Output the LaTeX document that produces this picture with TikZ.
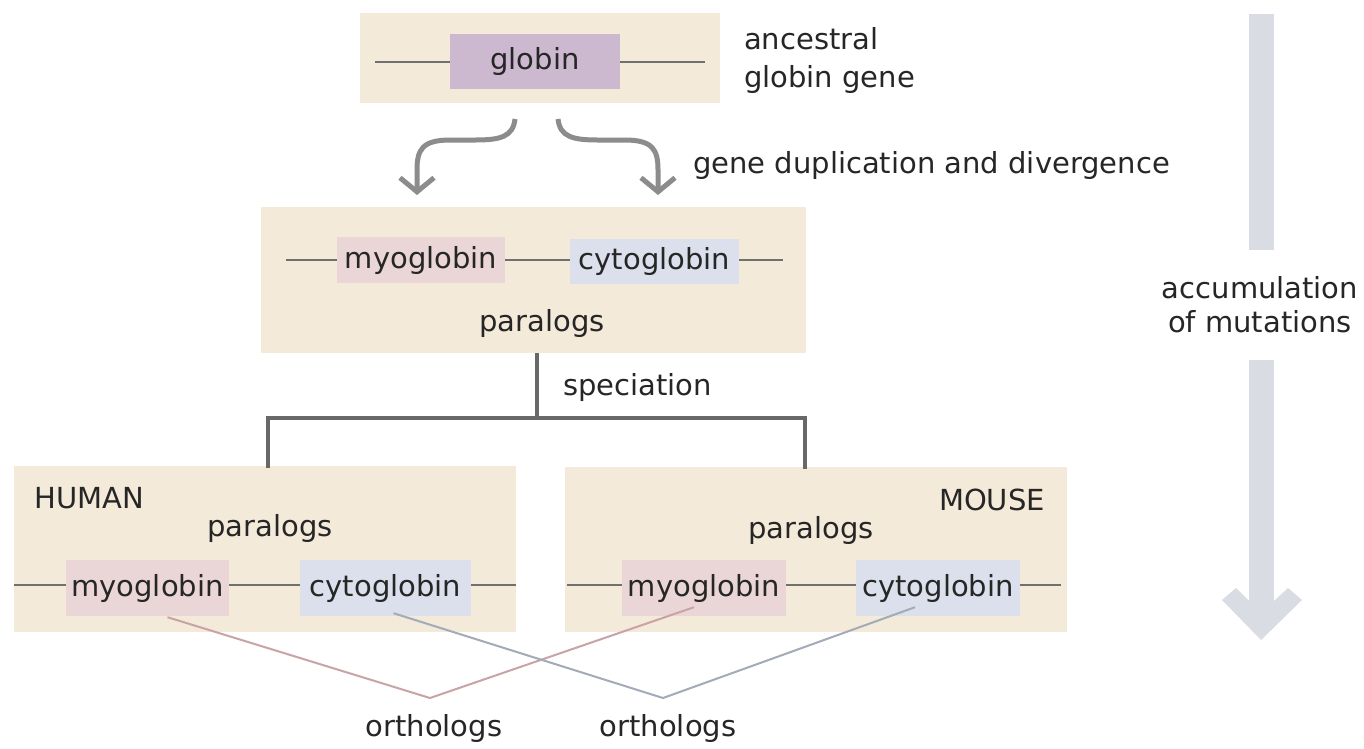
\documentclass[tikz,border=0pt]{standalone}
\usepackage{fontspec}
\setmainfont{DejaVu Sans}
\usetikzlibrary{arrows.meta,calc}
\definecolor{boxtan}{HTML}{F3EADA}
\definecolor{globinpurple}{HTML}{CDB9CF}
\definecolor{myopink}{HTML}{EBD6D7}
\definecolor{cytoblue}{HTML}{DCE0EC}
\definecolor{txtgray}{HTML}{262626}
\definecolor{linegray}{HTML}{707070}
\definecolor{specgray}{HTML}{686868}
\definecolor{arrowgray}{HTML}{8C8C8C}
\definecolor{mutgray}{HTML}{D9DCE2}
\definecolor{orthopink}{HTML}{C9A3A5}
\definecolor{orthoblue}{HTML}{A3AAB8}
\tikzset{
  panel/.style={fill=boxtan, draw=none, inner sep=0pt},
  lbl/.style={inner sep=0pt, text=txtgray, font=\fontsize{29}{34}\selectfont},
  genebox/.style={lbl, minimum height=48pt},
  geneline/.style={draw=linegray, line width=2.5pt},
  specline/.style={draw=specgray, line width=4pt},
  duparrow/.style={draw=arrowgray, line width=5pt, -{Straight Barb[length=14pt,width=34pt]}},
  orthoP/.style={draw=orthopink, line width=2pt},
  orthoB/.style={draw=orthoblue, line width=2pt}
}
\begin{document}
\begin{tikzpicture}[x=1pt,y=-1pt]
\useasboundingbox (0,0) rectangle (1364,748);
\fill[white] (0,0) rectangle (1364,748);

% ---------- top box ----------
\node[panel, minimum width=360pt, minimum height=90pt] (top) at (540,58) {};
\coordinate (tl) at (375,62);
\coordinate (tr) at (705,62);
\draw[geneline] (tl) -- (tr);
\node[genebox, fill=globinpurple, minimum width=170pt, minimum height=55pt] (globin) at (535,61) {globin};
\node[lbl, anchor=west] (anc1) at (744,39) {ancestral};
\node[lbl, anchor=west] (anc2) at (744,79) {globin gene};

% ---------- duplication arrows ----------
\coordinate (d1s) at (515,119);
\coordinate (d1e) at (417,195);
\coordinate (d2s) at (558,119);
\coordinate (d2e) at (658,195);
\draw[duparrow] (d1s) .. controls (513,137) and (500,140) .. (475,140) -- (450,140)
      .. controls (422,140) and (417,150) .. (417,170) -- (d1e);
\draw[duparrow] (d2s) .. controls (560,137) and (573,140) .. (598,140) -- (625,140)
      .. controls (653,140) and (658,150) .. (658,170) -- (d2e);
\node[lbl, anchor=west] (dup) at (693,165) {gene duplication and divergence};

% ---------- middle box ----------
\node[panel, minimum width=545pt, minimum height=146pt] (mid) at (533.5,280) {};
\coordinate (ml) at (286,260);
\coordinate (mr) at (783,260);
\draw[geneline] (ml) -- (mr);
\node[genebox, fill=myopink, minimum width=168pt, minimum height=46pt] (myo) at (421,260) {myoglobin};
\node[genebox, fill=cytoblue, minimum width=169pt, minimum height=45pt] (cyto) at (654.5,261) {cytoglobin};
\node[lbl] (par) at (542,323) {paralogs};

% ---------- speciation ----------
\coordinate (sp1) at (537,418);
\coordinate (spl) at (268,418);
\coordinate (spr) at (805,418);
\node[lbl, anchor=west] (spec) at (563,387) {speciation};

% ---------- human box ----------
\node[panel, minimum width=502pt, minimum height=166pt] (human) at (265,549) {};
\coordinate (hl) at (14,585);
\coordinate (hr) at (516,585);
\draw[geneline] (hl) -- (hr);
\node[lbl, anchor=west] (hname) at (34,498) {HUMAN};
\node[lbl] (hpar) at (270,528) {paralogs};
\node[genebox, fill=myopink, minimum width=163pt, minimum height=56pt] (hmyo) at (147.5,588) {myoglobin};
\node[genebox, fill=cytoblue, minimum width=171pt, minimum height=56pt] (hcyto) at (385.5,588) {cytoglobin};

% ---------- mouse box ----------
\node[panel, minimum width=502pt, minimum height=165pt] (mouse) at (816,549.5) {};
\coordinate (ml2) at (567,585);
\coordinate (mr2) at (1061,585);
\draw[geneline] (ml2) -- (mr2);
\node[lbl, anchor=east] (mname) at (1045,500) {MOUSE};
\node[lbl] (mpar) at (811,530) {paralogs};
\node[genebox, fill=myopink, minimum width=164pt, minimum height=56pt] (mmyo) at (704,588) {myoglobin};
\node[genebox, fill=cytoblue, minimum width=164pt, minimum height=56pt] (mcyto) at (938,588) {cytoglobin};

% speciation lines
\draw[specline] (mid.south -| sp1) -- (sp1);
\draw[specline, line cap=rect] (human.north -| spl) -- (spl) -- (spr) -- (mouse.north -| spr);

% ---------- orthologs ----------
\coordinate (v1) at (430,698);
\coordinate (v2) at (663,698);
\draw[orthoP] ([xshift=20pt,yshift=-1pt]hmyo.south) -- (v1) -- ([xshift=-10pt,yshift=9pt]mmyo.south);
\draw[orthoB] ([xshift=8pt,yshift=3pt]hcyto.south) -- (v2) -- ([xshift=-23pt,yshift=9pt]mcyto.south);
\node[lbl] (orth1) at (434,728) {orthologs};
\node[lbl] (orth2) at (668,728) {orthologs};

% ---------- accumulation arrow ----------
\coordinate (a1) at (1261,14);
\coordinate (a2) at (1261,250);
\coordinate (a3) at (1261,360);
\fill[mutgray] (1248.5,14) rectangle (1273.5,250);
\fill[mutgray] (1248.5,360) rectangle (1273.5,615);
\fill[mutgray] (1222,600) -- (1236,588) -- (1261,613) -- (1288,588) -- (1302,600) -- (1261,640) -- cycle;
\node[lbl] (acc1) at (1260,288) {accumulation};
\node[lbl] (acc2) at (1260,322) {of mutations};
\end{tikzpicture}
\end{document}
